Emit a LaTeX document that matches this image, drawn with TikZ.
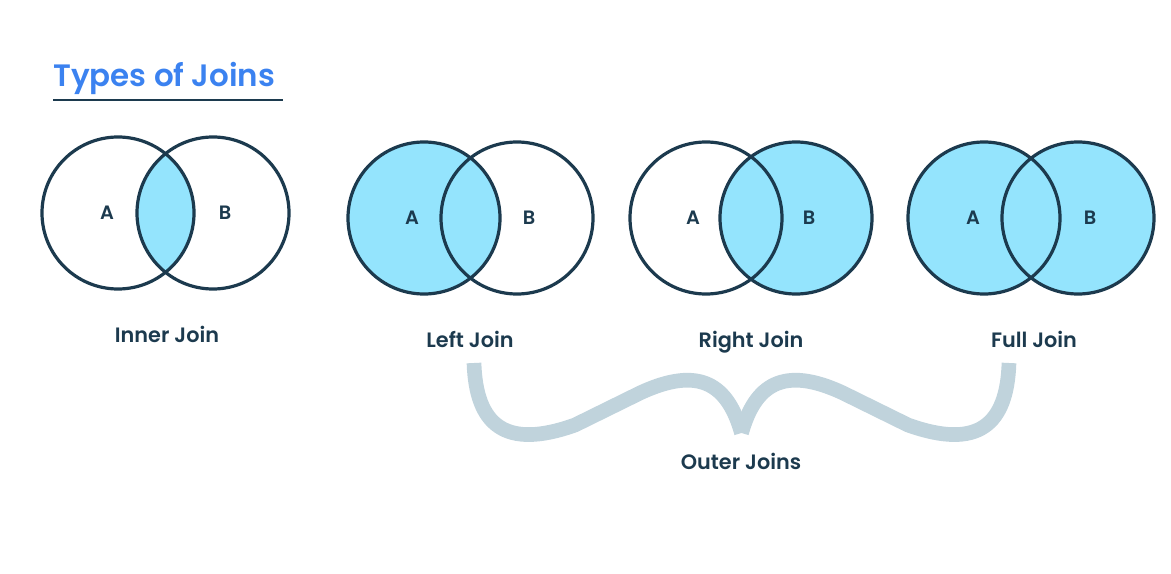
\documentclass[tikz,border=0pt]{standalone}
\usepackage{fontspec}
\setmainfont{Poppins}[BoldFont={Poppins SemiBold}]
\usetikzlibrary{positioning}
\definecolor{titleblue}{HTML}{3B82F0}
\definecolor{navy}{HTML}{1C3A4E}
\definecolor{setfill}{HTML}{94E4FD}
\definecolor{bracegray}{HTML}{C0D3DC}

\begin{document}
\begin{tikzpicture}[x=0.75pt,y=-0.75pt,
	setline/.style={line width=2.4pt, draw=navy},
	setlabel/.style={font=\fontsize{14.5}{17}\selectfont\bfseries, text=navy},
	joinlabel/.style={anchor=base, font=\fontsize{15.6}{18}\selectfont\bfseries, text=navy},
	bracestroke/.style={line width=11pt, draw=bracegray}]
				\useasboundingbox (0,0) rectangle (1171,574);

				% Title
				\node[anchor=base west, inner sep=0pt, text=titleblue, font=\fontsize{23.2}{27}\selectfont\bfseries] (title) at (53,87) {Types of Joins};
				\draw[line width=1.8pt, navy] (53,100) -- (283,100);

				% Inner join
				\coordinate (ia) at (118,213);
				\coordinate (ib) at (213,213);
				\begin{scope}
					\clip (ia) circle (76);
					\fill[setfill] (ib) circle (76);
				\end{scope}
				\draw[setline] (ia) circle (76) (ib) circle (76);
				\node[setlabel] (ina) at (107,213) {A};
				\node[setlabel] (inb) at (225,213) {B};
				\node[joinlabel] (inner) at (167,342) {Inner Join};

				% Left join
				\coordinate (la) at (424,218);
				\coordinate (lb) at (517,218);
				\fill[setfill] (la) circle (76);
				\draw[setline] (la) circle (76) (lb) circle (76);
				\node[setlabel] (lfa) at (412,218) {A};
				\node[setlabel] (lfb) at (529,218) {B};
				\node[joinlabel] (left) at (470,347) {Left Join};

				% Right join
				\coordinate (ra) at (706,218);
				\coordinate (rb) at (796,218);
				\fill[setfill] (rb) circle (76);
				\draw[setline] (ra) circle (76) (rb) circle (76);
				\node[setlabel] (rta) at (693,218) {A};
				\node[setlabel] (rtb) at (809,218) {B};
				\node[joinlabel] (right) at (751,347) {Right Join};

				% Full join
				\coordinate (fa) at (984,218);
				\coordinate (fb) at (1078,218);
				\fill[setfill] (fa) circle (76) (fb) circle (76);
				\draw[setline] (fa) circle (76) (fb) circle (76);
				\node[setlabel] (fla) at (973,218) {A};
				\node[setlabel] (flb) at (1090,218) {B};
				\node[joinlabel] (full) at (1034,347) {Full Join};

				% Outer joins brace
				\coordinate (tip) at (741.5,433);
				\draw[bracestroke] (474,363) .. controls (476,425) and (505,450) .. (575,425)
					-- (640,393) .. controls (700,365) and (728,385) .. (tip);
				\draw[bracestroke] (1009,363) .. controls (1007,425) and (978,450) .. (908,425)
					-- (843,393) .. controls (783,365) and (755,385) .. (tip);
				\node[joinlabel] (outer) at (741,469) {Outer Joins};
			\end{tikzpicture}
\end{document}
